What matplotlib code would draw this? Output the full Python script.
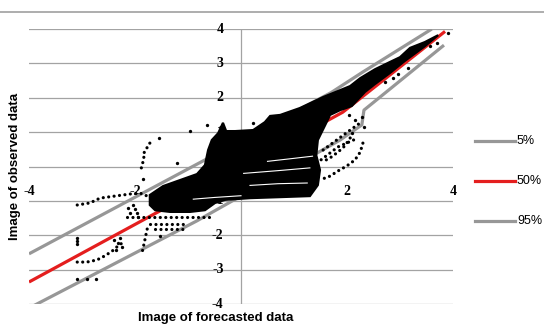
import matplotlib.pyplot as plt
from matplotlib.lines import Line2D

# quantile lines of observed vs forecasted
q05_x = [-4.0, -0.83, 1.87, 2.28, 2.32, 3.83]
q05_y = [-4.12, -1.58, 0.77, 1.21, 1.64, 3.53]
q50_x = [-4.0, -1.6, -0.3, 1.92, 2.38, 3.85]
q50_y = [-3.36, -1.35, -0.3, 1.58, 2.14, 3.93]
q95_x = [-4.0, 1.7, 2.3, 3.6]
q95_y = [-2.54, 2.15, 2.75, 4.0]

# outline of the dense cloud of points
cloud_x = [-1.72, -1.47, -1.25, -0.83, -0.68, -0.62, -0.55, -0.43, -0.34, -0.28,
           -0.11, 0.23, 0.45, 0.55, 0.74, 1.11, 1.55, 1.87, 2.06, 2.25, 2.53,
           2.81, 3.0, 3.19, 3.47, 3.72, 3.47, 3.09, 2.81, 2.53, 2.34, 2.09,
           1.87, 1.68, 1.59, 1.45, 1.42, 1.49, 1.45, 1.3, 0.74, 0.17, -0.3,
           -0.49, -0.68, -0.96, -1.34, -1.62, -1.72]
cloud_y = [-0.83, -0.57, -0.45, -0.22, 0.04, 0.48, 0.77, 0.97, 1.27, 1.03,
           1.03, 1.06, 1.29, 1.47, 1.5, 1.7, 2.02, 2.22, 2.34, 2.57, 2.83,
           3.04, 3.18, 3.45, 3.62, 3.82, 3.5, 3.07, 2.72, 2.4, 2.17, 1.76,
           1.64, 1.5, 1.21, 0.77, 0.33, -0.1, -0.54, -0.86, -0.89, -0.92, -0.97,
           -1.06, -1.27, -1.32, -1.32, -1.27, -1.12]

# gaps between the streaks inside the cloud
gaps = [
    ([0.17, 0.7, 1.25], [-0.55, -0.5, -0.48]),
    ([0.05, 0.7, 1.3], [-0.2, -0.12, -0.04]),
    ([0.5, 0.9, 1.35], [0.15, 0.22, 0.3]),
    ([-0.9, -0.5, 0.0], [-0.95, -0.9, -0.85]),
]

# dotted trails of points
trails = [
    ([2.3, 2.25, 2.15, 2.0, 1.83, 1.68, 1.49], [0.68, 0.42, 0.19, 0.02, -0.13, -0.28, -0.39]),
    ([2.06, 1.96, 1.83, 1.68, 1.53], [0.83, 0.6, 0.42, 0.25, 0.13]),
    ([1.55, 2.06, 2.25], [0.48, 1.06, 1.27]),
    ([1.43, 1.83, 2.21], [0.1, 0.57, 0.83]),
    ([-3.09, -2.85, -2.66, -2.38, -2.09, -1.91, -1.72], [-1.12, -1.06, -0.92, -0.86, -0.8, -0.77, -0.89]),
    ([-3.09, -2.91, -2.72, -2.57, -2.43, -2.32, -2.19], [-2.78, -2.78, -2.72, -2.6, -2.46, -2.31, -2.17]),
    ([-1.77, -1.79, -1.81, -1.83, -1.85, -1.87], [-1.82, -1.96, -2.11, -2.25, -2.4, -2.52]),
    ([-1.72, -1.76, -1.79, -1.85, -1.83, -1.85, -1.87, -1.89], [0.68, 0.6, 0.48, 0.36, 0.25, 0.13, 0.02, -0.1]),
    ([-2.15, -0.55], [-1.47, -1.47]),
    ([-1.72, -1.02], [-1.67, -1.67]),
    ([-1.62, -1.06], [-1.82, -1.82]),
]

# single points outside the cloud
pts_x = [-1.55, -0.96, -0.64, 0.23, -1.21, -1.85, 3.91, -3.09, -3.09, -3.09,
         -2.4, -2.32, -2.25, -2.36, -2.28, -1.53, -3.09, -2.91, -2.74,
         -2.04, -2.0, -1.96, -1.94, -2.13, -2.09, 2.04, 2.15, 2.28, 2.32, 2.09,
         2.72, 2.87, 2.96, 3.15, 3.57, 3.7]
pts_y = [0.83, 1.03, 1.21, 1.27, 0.1, -0.36, 3.88, -2.08, -2.17, -2.25,
         -2.14, -2.22, -2.34, -2.43, -2.08, -2.02, -3.27, -3.27, -3.27,
         -1.12, -1.24, -1.35, -1.47, -1.21, -1.35, 1.5, 1.35, 1.44, 1.15, 0.97,
         2.46, 2.57, 2.69, 2.86, 3.5, 3.59]

ticks_x = [-4, -2, 0, 2, 4]
ticks_y = [-4, -3, -2, -1, 0, 1, 2, 3, 4]
legend_labels = ["5%", "50%", "95%"]
legend_colors = ["#979797", "#e41e1e", "#979797"]

fig = plt.figure(figsize=(5.44, 3.27), dpi=100)
ax = fig.add_axes([0.0533, 0.0703, 0.7794, 0.841])
ax.set_xlim(-4, 4)
ax.set_ylim(-4, 4)
ax.axis("off")

for v in ticks_y:
    ax.axhline(v, color="#a3a3a3", lw=0.9, zorder=0)
ax.axvline(0, color="#a3a3a3", lw=0.9, zorder=0)

for v in ticks_x:
    ax.text(v, -0.74, str(v), ha="center", va="center", fontsize=10,
            family="Liberation Serif", weight="bold", zorder=1, clip_on=False)
for v in ticks_y:
    ax.text(-0.33, v, str(v), ha="right", va="center", fontsize=10,
            family="Liberation Serif", weight="bold", zorder=1, clip_on=False)

ax.plot(q05_x, q05_y, color=legend_colors[0], lw=2.3, zorder=2, solid_capstyle="butt")
ax.plot(q50_x, q50_y, color=legend_colors[1], lw=2.3, zorder=2, solid_capstyle="butt")
ax.plot(q95_x, q95_y, color=legend_colors[2], lw=2.3, zorder=2, solid_capstyle="butt")

ax.fill(cloud_x, cloud_y, facecolor="black", edgecolor="black", lw=1.6, zorder=3)
for gx, gy in gaps:
    ax.plot(gx, gy, color="white", lw=0.8, zorder=3.5)
for tx, ty in trails:
    ax.plot(tx, ty, color="black", lw=2.3, linestyle=(0, (0.01, 1.7)),
            dash_capstyle="round", zorder=3)
ax.plot(pts_x, pts_y, "o", color="black", ms=2.4, mew=0, zorder=3)

fig.text(0.397, 0.027, "Image of forecasted data", ha="center", va="center",
         fontsize=9.5, weight="bold", family="Liberation Sans")
fig.text(0.028, 0.492, "Image of observed data", ha="center", va="center",
         rotation=90, fontsize=9.5, weight="bold", family="Liberation Sans")

# legend on the right
for i, lab in enumerate(legend_labels):
    yy = 1 - (141 + 40 * i) / 327
    fig.add_artist(Line2D([475 / 544, 515 / 544], [yy, yy], color=legend_colors[i],
                          lw=2.3, transform=fig.transFigure))
    fig.text(517 / 544, yy, lab, ha="left", va="center", fontsize=9,
             family="Liberation Sans")

fig.add_artist(Line2D([0, 1], [1 - 12 / 327, 1 - 12 / 327], color="#a0a0a0",
                      lw=1.2, transform=fig.transFigure))

plt.savefig("out.png", dpi=100)
